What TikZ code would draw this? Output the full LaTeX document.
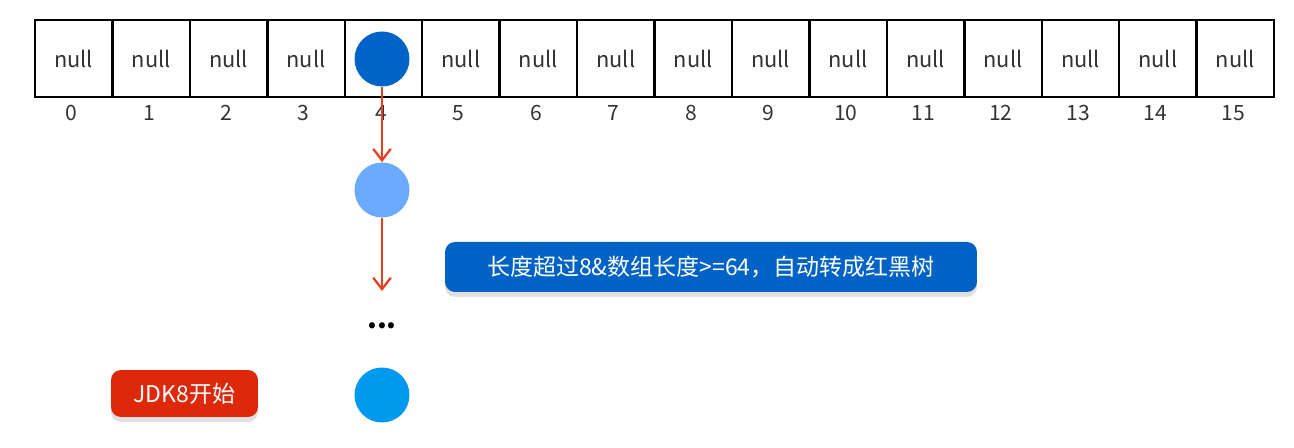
\documentclass[tikz,border=0pt]{standalone}
\usepackage{fontspec}
\setmainfont{Noto Sans CJK SC}
\usepackage{xcolor}
\usepackage{tikz}
\usetikzlibrary{arrows.meta, shadows}
\definecolor{headblue}{RGB}{0,99,200}
\definecolor{nextblue}{RGB}{106,170,255}
\definecolor{lastblue}{RGB}{0,153,240}
\definecolor{tagblue}{RGB}{0,98,196}
\definecolor{tagred}{RGB}{222,40,10}
\definecolor{arrowred}{RGB}{232,64,28}
\tikzstyle{cell} = [rectangle, draw=black, line width=1.4pt, minimum width=1.549cm, minimum height=1.54cm, inner sep=0pt, text=black!80, font=\fontsize{12.4}{14}\selectfont]
\tikzstyle{index} = [text=black!80, font=\fontsize{12}{14}\selectfont]
\tikzstyle{entry} = [circle, minimum size=1.1cm, inner sep=0pt]
\tikzstyle{tag} = [rectangle, rounded corners=0.2cm, text=white, font=\fontsize{13.1}{15}\selectfont, drop shadow={shadow xshift=0cm, shadow yshift=-0.1cm, fill=black!12, opacity=1}]
\tikzstyle{arrow} = [line width=1.3pt, draw=arrowred, -{Straight Barb[length=6.5pt,width=10pt]}]

\begin{document}
\begin{tikzpicture}[x=0.02cm, y=-0.02cm]

    \useasboundingbox (0,0) rectangle (1294,448);

    % Array
    \foreach \i in {0,...,15} {
        \node (cell\i) [cell] at ({73.72+77.44*\i},58.5) {\ifnum\i=4 \else null\fi};
        \node (idx\i) [index] at ({71.5+77.44*\i},113) {\i};
    }

    % Nodes
    \node (head) [entry, fill=headblue] at (382,59) {};
    \node (next) [entry, fill=nextblue] at (382,190) {};
    \coordinate (tail) at (382,291);
    \node (dots) at (382,326) {\fontsize{16}{18}\selectfont\bfseries ...};
    \node (last) [entry, fill=lastblue] at (382,395) {};
    \node (treeify) [tag, fill=tagblue, minimum width=10.64cm, minimum height=1cm] at (711,267) {长度超过8\&数组长度>=64，自动转成红黑树};
    \node (jdk) [tag, fill=tagred, minimum width=2.94cm, minimum height=0.94cm] at (184.5,393.5) {JDK8开始};

    % Arrows
    \draw [arrow] (head) -- (next);
    \draw [arrow] (next) -- (tail);

\end{tikzpicture}
\end{document}
